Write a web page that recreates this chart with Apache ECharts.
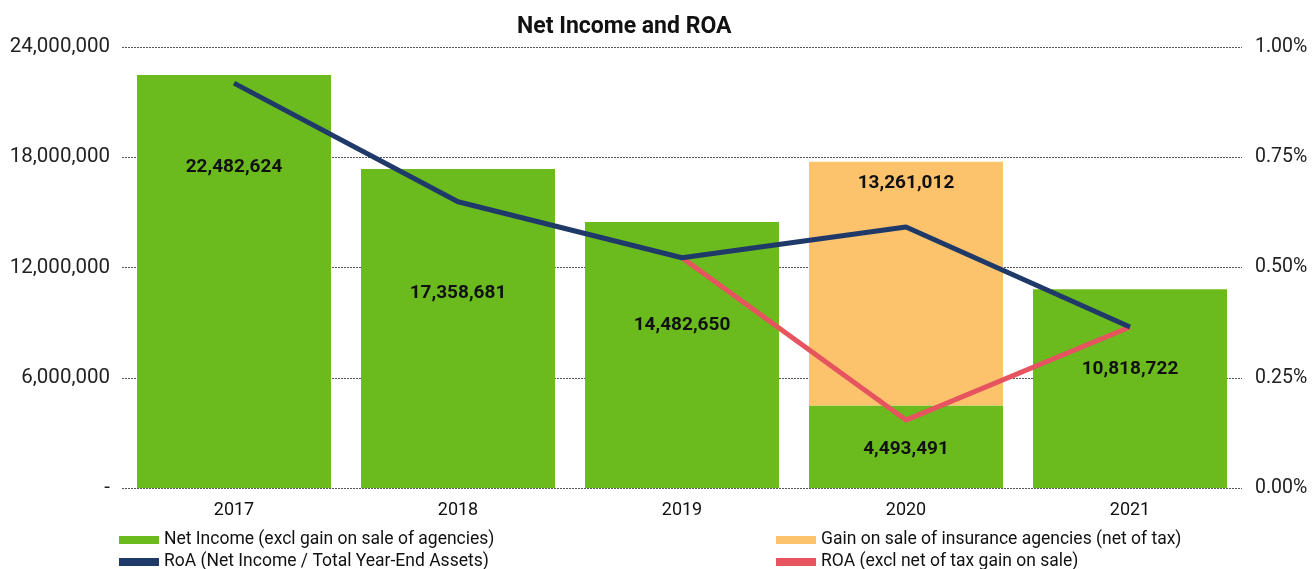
<!DOCTYPE html>
<html>
<head>
<meta charset="utf-8">
<script src="https://cdn.jsdelivr.net/npm/echarts@6/dist/echarts.min.js"></script>
<style>html,body{margin:0;padding:0;background:#fff}#c{width:1313px;height:569px}</style>
</head>
<body>
<div id="c"></div>
<script>
// ---- data ----
const years = ['2017', '2018', '2019', '2020', '2021'];
const netIncome = [22482624, 17358681, 14482650, 4493491, 10818722];
const gainOnSale = [null, null, null, 13261012, null];
const roa = [0.918, 0.649, 0.522, 0.592, 0.365];          // percent
const roaExcl = [null, null, 0.522, 0.154, 0.365];       // percent
const leftTicks = [0, 6000000, 12000000, 18000000, 24000000];
const rightTicks = [0, 0.25, 0.5, 0.75, 1.0];

// ---- layout (label nudges, px) ----
const netLabelOffsetY = [-114, -35, -30, 3, -19];
const gainLabelOffsetY = [0, 0, 0, -100, 0];

const fmt = v => Math.round(v).toString().replace(/\B(?=(\d{3})+(?!\d))/g, ',');

const chart = echarts.init(document.getElementById('c'), null, {renderer: 'canvas'});
const labelStyle = {show: true, position: 'inside', color: '#111', fontFamily: 'Roboto', fontWeight: 'bold', fontSize: 19, formatter: p => fmt(p.value)};
const legendText = {fontFamily: 'Roboto', fontSize: 17.5, color: '#111'};

chart.setOption({
  animation: false,
  title: {text: 'Net Income and ROA', left: 512, top: 11, textStyle: {fontFamily: 'Roboto', fontWeight: 'bold', fontSize: 23, color: '#111'}},
  grid: {left: 122, right: 71, top: 47, bottom: 81},
  legend: [
    {left: 119, top: 531, height: 100, padding: 0, orient: 'vertical', itemGap: 4, itemWidth: 40, itemHeight: 8, icon: 'rect',
     data: ['Net Income (excl gain on sale of agencies)', 'RoA (Net Income / Total Year-End Assets)'],
     textStyle: legendText},
    {left: 776, top: 531, height: 100, padding: 0, orient: 'vertical', itemGap: 4, itemWidth: 40, itemHeight: 8, icon: 'rect',
     data: ['Gain on sale of insurance agencies (net of tax)', 'ROA (excl net of tax gain on sale)'],
     textStyle: legendText}
  ],
  xAxis: {type: 'category', data: years, axisLine: {show: false}, axisTick: {show: false},
    axisLabel: {fontFamily: 'Roboto', fontSize: 18, color: '#111', margin: 13}},
  yAxis: [
    {type: 'value', min: 0, max: 24000000, interval: 6000000,
     axisLabel: {fontFamily: 'Roboto', fontSize: 20.5, color: '#222', margin: 12, formatter: v => v === 0 ? '-' : fmt(v)},
     splitLine: {show: true, lineStyle: {type: [2, 1], color: '#555', width: 1}},
     axisLine: {show: false}, axisTick: {show: false}},
    {type: 'value', min: 0, max: 1, interval: 0.25,
     axisLabel: {fontFamily: 'Roboto', fontSize: 19.5, color: '#222', margin: 13, formatter: v => v.toFixed(2) + '%'},
     splitLine: {show: false}, axisLine: {show: false}, axisTick: {show: false}}
  ],
  series: [
    {name: 'Net Income (excl gain on sale of agencies)', type: 'bar', stack: 'ni', barCategoryGap: '13.4%',
     itemStyle: {color: '#6BBB1F'},
     data: netIncome.map((v, i) => ({value: v, label: Object.assign({}, labelStyle, {offset: [0, netLabelOffsetY[i]]})}))},
    {name: 'Gain on sale of insurance agencies (net of tax)', type: 'bar', stack: 'ni',
     itemStyle: {color: '#FDC26C'},
     data: gainOnSale.map((v, i) => v == null ? null : ({value: v, label: Object.assign({}, labelStyle, {offset: [0, gainLabelOffsetY[i]]})}))},
    {name: 'ROA (excl net of tax gain on sale)', type: 'line', yAxisIndex: 1, data: roaExcl,
     symbol: 'none', lineStyle: {color: '#E5545F', width: 5}, itemStyle: {color: '#E5545F'}, connectNulls: false},
    {name: 'RoA (Net Income / Total Year-End Assets)', type: 'line', yAxisIndex: 1, data: roa,
     symbol: 'none', lineStyle: {color: '#1F3A68', width: 5}, itemStyle: {color: '#1F3A68'}}
  ]
});
</script>
</body>
</html>
